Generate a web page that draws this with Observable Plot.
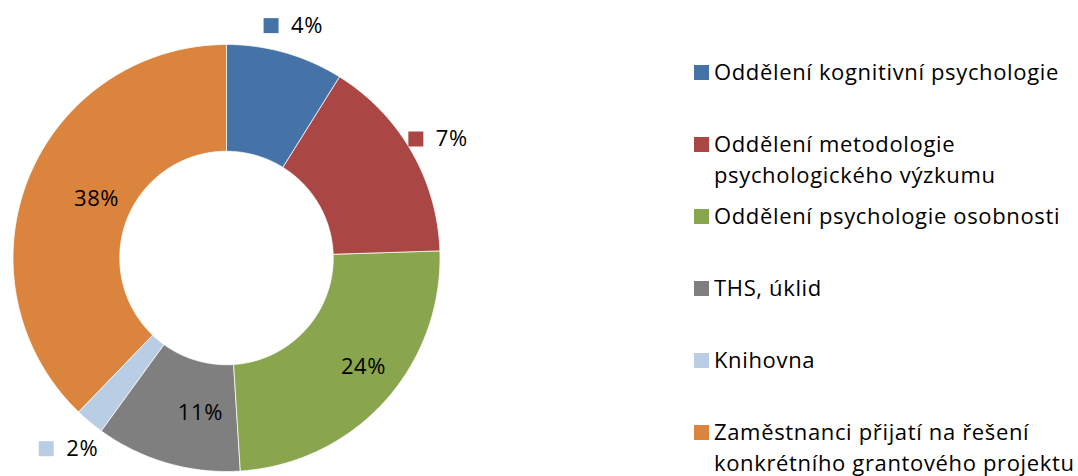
<!DOCTYPE html>
<html>
<head>
<meta charset="utf-8">
<script src="https://cdn.jsdelivr.net/npm/d3@7"></script>
<script src="https://cdn.jsdelivr.net/npm/@observablehq/plot@0.6"></script>
<style>
  html, body { margin: 0; padding: 0; background: #fff; }
  #wrap { position: relative; width: 1078px; height: 476px; overflow: hidden; font-family: "Open Sans", Lato, sans-serif; }
  #legend { position: absolute; left: 694px; top: 56px; font-size: 22px; letter-spacing: 0.65px; color: #000; }
  .item { height: 72px; display: flex; align-items: flex-start; }
  .key { width: 15px; height: 15px; margin-top: 9px; margin-right: 5px; flex: none; }
  .txt { line-height: 31px; white-space: pre-line; }
  #chart text { letter-spacing: 0.6px; }
</style>
</head>
<body>
<div id="wrap"><div id="chart"></div><div id="legend"></div></div>
<script>
// ---- data ----
const names = [
  "Oddělení kognitivní psychologie",
  "Oddělení metodologie psychologického výzkumu",
  "Oddělení psychologie osobnosti",
  "THS, úklid",
  "Knihovna",
  "Zaměstnanci přijatí na řešení konkrétního grantového projektu"
];
const legendText = [
  "Oddělení kognitivní psychologie",
  "Oddělení metodologie\npsychologického výzkumu",
  "Oddělení psychologie osobnosti",
  "THS, úklid",
  "Knihovna",
  "Zaměstnanci přijatí na řešení\nkonkrétního grantového projektu"
];
const shares = [8.9, 15.6, 24.5, 11.0, 2.2, 37.8];
const labels = ["4%", "7%", "24%", "11%", "2%", "38%"];
const labelPlacement = ["outside", "outside", "inside", "inside", "outside", "inside"];
const colors = ["#4572A7", "#AA4643", "#89A54E", "#7F7F7F", "#B9CDE5", "#DB843D"];

// ---- layout ----
const W = 1078, H = 476;
const cx = 226, cy = 257.5, R = 213.5;   // pie centre and outer radius in px
const inner = 0.5, labelR = 0.75, outR = 1.147;

const arcs = d3.pie().sort(null).value(d => d)(shares);

const poly = [];
arcs.forEach((a, i) => {
  const n = 120;
  for (let k = 0; k <= n; k++) {
    const t = a.startAngle + (a.endAngle - a.startAngle) * k / n;
    poly.push({name: names[i], x: Math.sin(t), y: Math.cos(t)});
  }
  for (let k = n; k >= 0; k--) {
    const t = a.startAngle + (a.endAngle - a.startAngle) * k / n;
    poly.push({name: names[i], x: inner * Math.sin(t), y: inner * Math.cos(t)});
  }
});

const lab = arcs.map((a, i) => {
  const m = (a.startAngle + a.endAngle) / 2;
  const r = labelPlacement[i] === "inside" ? labelR : outR;
  return {name: names[i], label: labels[i], place: labelPlacement[i], x: r * Math.sin(m), y: r * Math.cos(m)};
});
const insideLab = lab.filter(d => d.place === "inside");
const outsideLab = lab.filter(d => d.place === "outside");

const chart = Plot.plot({
  width: W, height: H,
  margin: 0,
  x: {domain: [-cx / R, (W - cx) / R], range: [0, W], axis: null},
  y: {domain: [-(H - cy) / R, cy / R], range: [H, 0], axis: null},
  color: {domain: names, range: colors},
  style: {fontFamily: "'Open Sans', Lato, sans-serif", background: "white"},
  marks: [
    Plot.line(poly, {x: "x", y: "y", z: "name", fill: "name", stroke: "white", strokeWidth: 0.75, curve: "linear-closed"}),
    Plot.text(insideLab, {x: "x", y: "y", text: "label", textAnchor: "start", dx: -4, dy: 1, fontSize: 22, fill: "black"}),
    Plot.dot(outsideLab, {x: "x", y: "y", symbol: "square", r: 8.46, fill: "name", dx: -23, dy: 3}),
    Plot.text(outsideLab, {x: "x", y: "y", text: "label", textAnchor: "start", dx: -3, dy: 3, fontSize: 22, fill: "black"})
  ]
});
document.getElementById("chart").appendChild(chart);

const legend = document.getElementById("legend");
names.forEach((n, i) => {
  const item = document.createElement("div");
  item.className = "item";
  const key = document.createElement("div");
  key.className = "key";
  key.style.background = colors[i];
  const txt = document.createElement("div");
  txt.className = "txt";
  txt.textContent = legendText[i];
  item.appendChild(key);
  item.appendChild(txt);
  legend.appendChild(item);
});
</script>
</body>
</html>
